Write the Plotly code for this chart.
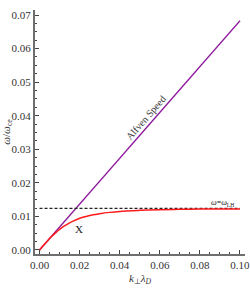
import plotly.graph_objects as go

# Data
alfven_k = [0.0, 0.1]
alfven_w = [0.0, 0.0683]

lh_k = [0.0, 0.1]
lh_w = [0.0124, 0.0124]

red_k = [0.0, 0.002, 0.004, 0.006, 0.008, 0.010, 0.012, 0.015, 0.0186, 0.022,
         0.025, 0.030, 0.035, 0.040, 0.050, 0.060, 0.070, 0.080, 0.090, 0.100]
red_w = [0.0, 0.00137, 0.0027, 0.0040, 0.0051, 0.0061, 0.0070, 0.0081, 0.0091, 0.0098,
         0.0103, 0.0108, 0.0112, 0.0115, 0.0118, 0.0120, 0.0121, 0.0122, 0.0122, 0.0122]

x_ticks = [0.0, 0.02, 0.04, 0.06, 0.08, 0.10]
x_ticklabels = ["0.00", "0.02", "0.04", "0.06", "0.08", "0.10"]
y_ticks = [0.0, 0.01, 0.02, 0.03, 0.04, 0.05, 0.06, 0.07]
y_ticklabels = ["0.00", "0.01", "0.02", "0.03", "0.04", "0.05", "0.06", "0.07"]

FONT = "Liberation Serif"

fig = go.Figure()
fig.add_trace(go.Scatter(x=alfven_k, y=alfven_w, mode="lines",
                         line=dict(color="#8e1a9e", width=1.3), hoverinfo="skip"))
fig.add_trace(go.Scatter(x=lh_k, y=lh_w, mode="lines",
                         line=dict(color="#222222", width=1.1, dash="3px,2px"), hoverinfo="skip"))
fig.add_trace(go.Scatter(x=red_k, y=red_w, mode="lines", line_shape="spline",
                         line=dict(color="#ff1a1a", width=1.5), hoverinfo="skip"))

fig.add_annotation(x=0.053, y=0.0396, text="Alfven Speed", showarrow=False,
                   textangle=-49, font=dict(family=FONT, size=10, color="#333333"))
fig.add_annotation(x=0.0198, y=0.0062, text="X", showarrow=False,
                   font=dict(family=FONT, size=11, color="#222222"))
fig.add_annotation(x=0.0911, y=0.0140, text="<i>ω</i>=<i>ω</i><sub>LH</sub>", showarrow=False,
                   font=dict(family=FONT, size=8, color="#222222"))

axis_common = dict(
    showline=True, linecolor="#6e6e6e", linewidth=2,
    ticks="inside", ticklen=4, tickcolor="#444444", tickwidth=1,
    showgrid=False, zeroline=False, automargin=False,
    ticklabeloverflow="allow",
    tickfont=dict(family=FONT, size=11, color="#333333"),
)

fig.update_xaxes(range=[-0.00225, 0.1025], tickvals=x_ticks, ticktext=x_ticklabels,
                 minor=dict(ticks="inside", ticklen=2, dtick=0.005, tickcolor="#444444"),
                 title=dict(text="<i>k</i><sub>⊥</sub><i>λ</i><sub><i>D</i></sub>",
                            font=dict(family=FONT, size=11, color="#333333"), standoff=4),
                 **axis_common)
fig.update_yaxes(range=[-0.0012, 0.0715], tickvals=y_ticks, ticktext=y_ticklabels,
                 minor=dict(ticks="inside", ticklen=2, dtick=0.0025, tickcolor="#444444"),
                 title=dict(text="<i>ω</i>/<i>ω</i><sub>ce</sub>",
                            font=dict(family=FONT, size=11, color="#333333"), standoff=2),
                 **axis_common)

fig.update_layout(width=250, height=292, margin=dict(l=35, r=5, t=10, b=38),
                  paper_bgcolor="white", plot_bgcolor="white", showlegend=False)

fig.write_html("out.html", config={"displayModeBar": False},
               post_script="document.body.style.margin='0';document.body.style.overflow='hidden';")
